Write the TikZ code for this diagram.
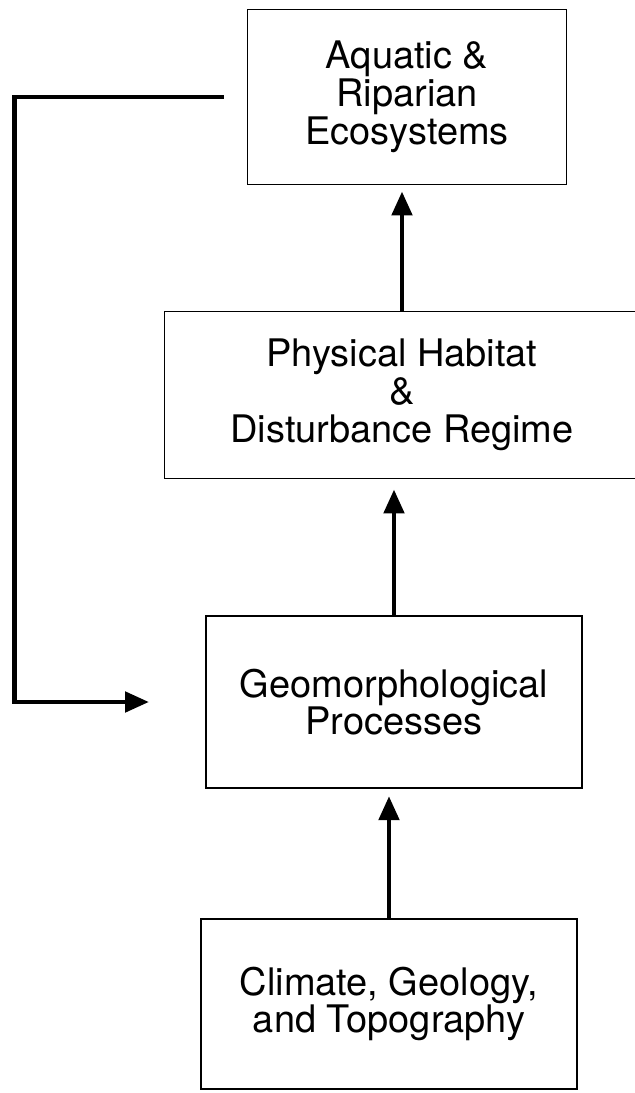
\documentclass[tikz,border=0pt]{standalone}
\usepackage{fontspec}
\setmainfont{TeX Gyre Heros}
\usetikzlibrary{arrows.meta, positioning}

\tikzset{
  stagebox/.style={rectangle, draw=black, line width=1.3pt, align=center, inner sep=0pt, font=\fontsize{27}{27}\selectfont},
  flow/.style={line width=3.5pt, -{Triangle[length=0.6cm, width=0.5cm]}}
}

\begin{document}
\begin{tikzpicture}[x=0.025cm, y=-0.025cm]
\useasboundingbox (0,0) rectangle (635,1093);

% Top box
\node[stagebox, minimum width=7.975cm, minimum height=4.375cm] (aquatic) at (407,97) {Aquatic \&\\ Riparian\\ Ecosystems};

% Second box, runs off the right edge
\node[stagebox, minimum width=11.875cm, minimum height=4.175cm] (habitat) at (402,395) {Physical Habitat\\ \&\\ Disturbance Regime};

% Third box
\node[stagebox, minimum width=9.4cm, minimum height=4.3cm, font=\fontsize{27}{24}\selectfont] (geomorph) at (394,702) {Geomorphological\\ Processes};

% Bottom box
\node[stagebox, minimum width=9.4cm, minimum height=4.25cm, font=\fontsize{27}{24}\selectfont] (climate) at (389,1004) {Climate, Geology,\\ and Topography};

% Upward arrows
\draw[flow, shorten >=0.15cm] (habitat.north) -- (habitat.north |- aquatic.south);
\draw[flow, shorten >=0.25cm] (geomorph.north) -- (geomorph.north |- habitat.south);
\draw[flow, shorten >=0.18cm] (climate.north) -- (climate.north |- geomorph.south);

% Feedback loop on the left
\draw[flow] ([xshift=-0.575cm]aquatic.west) -- ++(-5.225cm,0) |- ([xshift=-1.4cm]geomorph.west);
\end{tikzpicture}
\end{document}
